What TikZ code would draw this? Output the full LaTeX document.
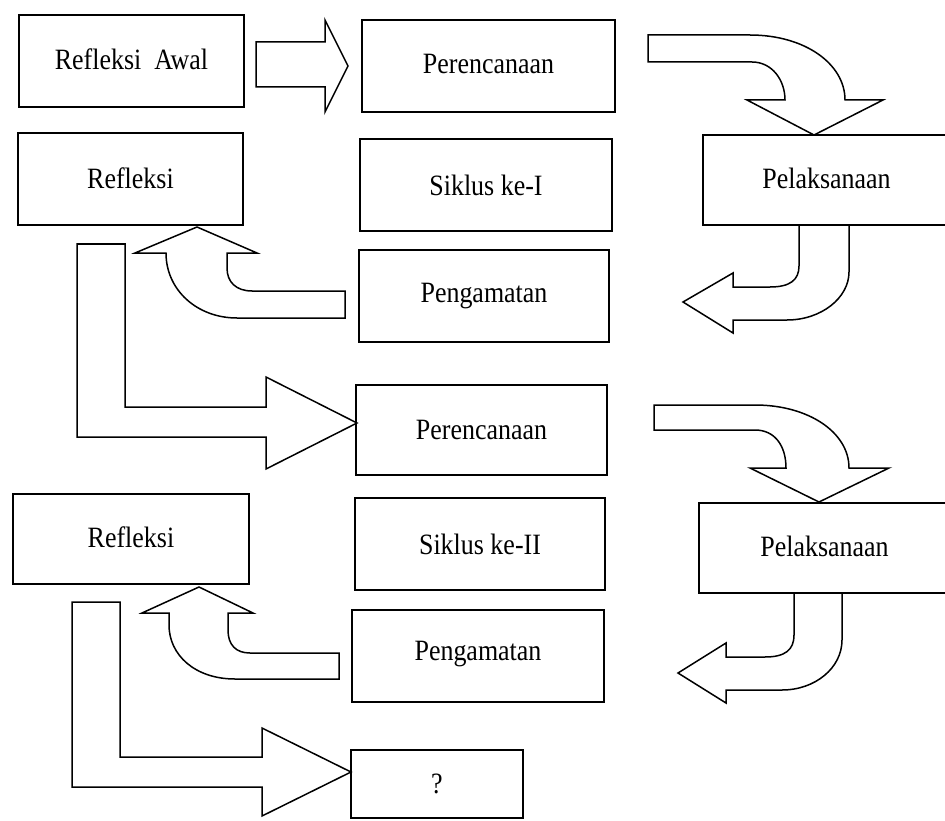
\documentclass[tikz,border=0pt]{standalone}
\usepackage{fontspec}
\setmainfont{Liberation Serif}
\newcommand{\lbltxt}[2]{\raisebox{#1}{\scalebox{0.88}[1]{#2}}}
\begin{document}
\begin{tikzpicture}[x=1pt,y=-1pt,
  box/.style={draw, line width=1.5pt, rectangle, inner sep=0pt, font=\fontsize{29.5}{34}\selectfont},
  blockarrow/.style={draw, line width=1.5pt, line join=miter}]
\useasboundingbox (0,0) rectangle (945,821);
% boxes
\node[box, minimum width=225pt, minimum height=92pt] (ra) at (131.5,61) {\lbltxt{3pt}{Refleksi\ \ Awal}};
\node[box, minimum width=253pt, minimum height=92pt] (per1) at (488.5,66) {\lbltxt{3.5pt}{Perencanaan}};
\node[box, minimum width=247pt, minimum height=90pt] (pel1) at (826.5,180) {\lbltxt{3pt}{Pelaksanaan}};
\node[box, minimum width=225pt, minimum height=92pt] (ref1) at (130.5,179) {\lbltxt{2pt}{Refleksi}};
\node[box, minimum width=252pt, minimum height=92pt] (sik1) at (486,185) {\lbltxt{-2pt}{Siklus ke-I}};
\node[box, minimum width=250pt, minimum height=92pt] (pen1) at (484,296) {\lbltxt{1pt}{Pengamatan}};
\node[box, minimum width=251pt, minimum height=90pt] (per2) at (481.5,430) {\lbltxt{-2pt}{Perencanaan}};
\node[box, minimum width=251pt, minimum height=90pt] (pel2) at (824.5,548) {\lbltxt{3pt}{Pelaksanaan}};
\node[box, minimum width=236pt, minimum height=90pt] (ref2) at (131,539) {\lbltxt{4pt}{Refleksi}};
\node[box, minimum width=250pt, minimum height=92pt] (sik2) at (480,544) {\lbltxt{-4pt}{Siklus ke-II}};
\node[box, minimum width=252pt, minimum height=92pt] (pen2) at (478,656) {\lbltxt{10pt}{Pengamatan}};
\node[box, minimum width=172pt, minimum height=68pt] (q) at (437,784) {\lbltxt{-9pt}{?}};
% straight arrow Refleksi Awal -> Perencanaan
\draw[blockarrow] (256,42) -- (325,42) -- (325,20) -- (348,66) -- (325,112) -- (325,87) -- (256,87) -- cycle;
% curved arrow Perencanaan -> Pelaksanaan (cycle I)
\draw[blockarrow] (648,35) -- (750,35) .. controls (805,35) and (845,64) .. (845,100)
  -- (883,100) -- (814,135) -- (747,100) -- (785,100)
  .. controls (785,80) and (772,62) .. (752,62) -- (648,62) -- cycle;
% curved arrow Pelaksanaan -> Pengamatan (cycle I)
\draw[blockarrow] (849,225) -- (849,272) .. controls (849,298) and (821,320) .. (787,320) -- (733,320)
  -- (733,333) -- (683,302) -- (733,273) -- (733,287) -- (770,287)
  .. controls (790,287) and (799,280) .. (799,266) -- (799,225);
% curved arrow Pengamatan -> Refleksi (cycle I)
\draw[blockarrow] (345,291) -- (252,291) .. controls (236,291) and (227,282) .. (227,268) -- (227,253)
  -- (257,253) -- (197,227) -- (135,253) -- (166,253)
  .. controls (166,290) and (197,318) .. (237,318) -- (345,318) -- cycle;
% L arrow Refleksi -> Perencanaan (cycle II)
\draw[blockarrow] (77,244) -- (125,244) -- (125,407) -- (266,407) -- (266,377) -- (357,423)
  -- (266,469) -- (266,437) -- (77,437) -- cycle;
% curved arrow Perencanaan -> Pelaksanaan (cycle II)
\draw[blockarrow] (654,405) -- (755,405) .. controls (808,405) and (849,432) .. (849,468)
  -- (889,468) -- (819,502) -- (750,468) -- (786,468)
  .. controls (786,446) and (775,430) .. (755,430) -- (654,430) -- cycle;
% curved arrow Pelaksanaan -> Pengamatan (cycle II)
\draw[blockarrow] (842,593) -- (842,640) .. controls (842,668) and (815,690) .. (782,690) -- (726,690)
  -- (726,703) -- (678,673) -- (726,643) -- (726,657) -- (765,657)
  .. controls (785,657) and (794,650) .. (794,635) -- (794,593);
% curved arrow Pengamatan -> Refleksi (cycle II)
\draw[blockarrow] (339,653) -- (250,653) .. controls (236,653) and (228,645) .. (228,630) -- (228,613)
  -- (253,613) -- (199,587) -- (142,613) -- (169,613) -- (169,625)
  .. controls (169,655) and (195,679) .. (235,679) -- (339,679) -- cycle;
% L arrow Refleksi -> ?
\draw[blockarrow] (72,602) -- (120,602) -- (120,757) -- (262,757) -- (262,728) -- (351,772)
  -- (262,816) -- (262,787) -- (72,787) -- cycle;
\end{tikzpicture}
\end{document}
